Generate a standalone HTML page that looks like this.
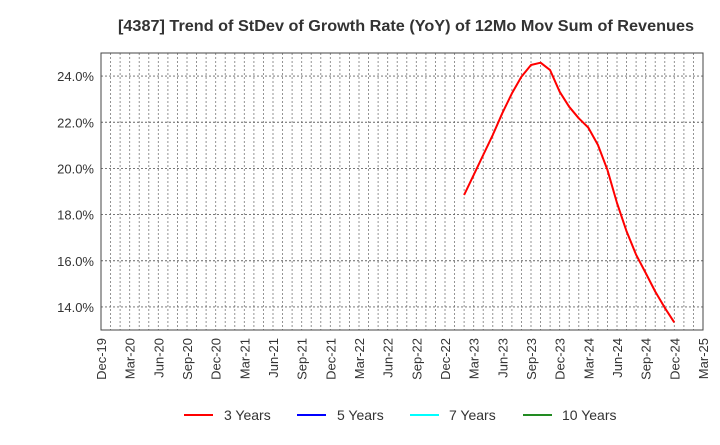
<!DOCTYPE html>
<html><head><meta charset="utf-8"><style>
body{margin:0;background:#fff;font-family:"Liberation Sans",sans-serif}
</style></head><body>
<svg id="chart" width="720" height="440" xmlns="http://www.w3.org/2000/svg" font-family="Liberation Sans, sans-serif">
<text x="406" y="31" text-anchor="middle" font-size="16" font-weight="bold" fill="#333" textLength="576" lengthAdjust="spacingAndGlyphs">[4387]  Trend of StDev of Growth Rate (YoY) of 12Mo Mov Sum of Revenues</text>
<g id="grid"></g>
<g id="yaxis"></g>
<g id="xaxis"></g>
<g id="series"></g>
<rect x="101" y="53" width="602" height="277" fill="none" stroke="#444" stroke-width="1"/>
<g id="legend" font-size="14" fill="#333">
<line x1="184" y1="415" x2="213" y2="415" stroke="#f00" stroke-width="2"/>
<text x="224" y="420">3 Years</text>
<line x1="297" y1="415" x2="326" y2="415" stroke="#00f" stroke-width="2"/>
<text x="337" y="420">5 Years</text>
<line x1="410" y1="415" x2="439" y2="415" stroke="#0ff" stroke-width="2"/>
<text x="449" y="420">7 Years</text>
<line x1="523" y1="415" x2="552" y2="415" stroke="#228b22" stroke-width="2"/>
<text x="562" y="420">10 Years</text>
</g>
</svg>
<script>
const xTickLabels=["Dec-19","Mar-20","Jun-20","Sep-20","Dec-20","Mar-21","Jun-21","Sep-21","Dec-21","Mar-22","Jun-22","Sep-22","Dec-22","Mar-23","Jun-23","Sep-23","Dec-23","Mar-24","Jun-24","Sep-24","Dec-24","Mar-25"];
const yTicks=[14,16,18,20,22,24];
const seriesStartMonth=38; // months after Dec-19 (Feb-23)
const series3y=[18.85,19.72,20.58,21.45,22.39,23.25,23.97,24.48,24.58,24.26,23.32,22.67,22.17,21.77,21.02,19.94,18.50,17.27,16.26,15.47,14.67,13.96,13.33];
const NS="http://www.w3.org/2000/svg";
const L=101,R=703,T=53,B=330,months=63,yMin=13,yMax=25;
function xs(m){return L+(R-L)*m/months;}
function ys(v){return B-(B-T)*(v-yMin)/(yMax-yMin);}
function mk(tag,attrs,parent){const e=document.createElementNS(NS,tag);for(const k in attrs)e.setAttribute(k,attrs[k]);document.getElementById(parent).appendChild(e);return e;}
for(let m=1;m<months;m++){
  const g=mk('line',{x1:xs(m),x2:xs(m),y1:T,y2:B,stroke:'#888','stroke-dasharray':'2,2','stroke-width':0.9},'grid');
  
  
}
yTicks.forEach(v=>{
  const g=mk('line',{x1:L,x2:R,y1:ys(v),y2:ys(v),stroke:'#666','stroke-dasharray':'2,2','stroke-width':0.9},'grid');
  
  
  const t=mk('text',{x:L-7,y:ys(v)+5,'text-anchor':'end','font-size':13,fill:'#333'},'yaxis');
  t.textContent=v.toFixed(1)+'%';
  
  
});
xTickLabels.forEach((lab,i)=>{
  const x=xs(i*3);
  const t=mk('text',{x:0,y:0,'text-anchor':'end','font-size':13,fill:'#333',transform:`translate(${x+5},338) rotate(-90)`},'xaxis');
  t.textContent=lab;
  
  
});
const pts=series3y.map((v,i)=>xs(seriesStartMonth+i).toFixed(1)+','+ys(v).toFixed(1)).join(' ');
const pl=mk('polyline',{points:pts,fill:'none',stroke:'#f00','stroke-width':2,'stroke-linejoin':'round'},'series');


</script>
</body></html>
